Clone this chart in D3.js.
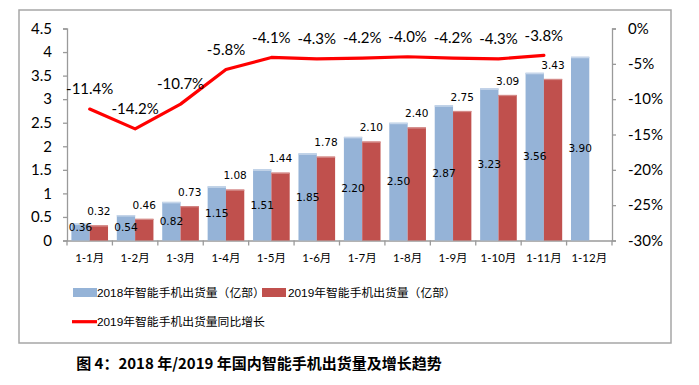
<!DOCTYPE html>
<html><head><meta charset="utf-8">
<script src="https://cdn.jsdelivr.net/npm/d3@7"></script>
<style>
html,body{margin:0;padding:0;background:#fff;}
svg{display:block;}
text{font-family:Lato,"Noto Sans CJK SC",sans-serif;}
</style></head>
<body><svg id="c" width="699" height="385"></svg>
<script>
const categories = ["1-1月","1-2月","1-3月","1-4月","1-5月","1-6月","1-7月","1-8月","1-9月","1-10月","1-11月","1-12月"];
const ship2018 = [0.36,0.54,0.82,1.15,1.51,1.85,2.20,2.50,2.87,3.23,3.56,3.90];
const ship2019 = [0.32,0.46,0.73,1.08,1.44,1.78,2.10,2.40,2.75,3.09,3.43];
const growth2019 = [-11.4,-14.2,-10.7,-5.8,-4.1,-4.3,-4.2,-4.0,-4.2,-4.3,-3.8];
const leftTicks = [0,0.5,1,1.5,2,2.5,3,3.5,4,4.5];
const rightTicks = [0,-5,-10,-15,-20,-25,-30];
const seriesNames = ["2018年智能手机出货量（亿部）","2019年智能手机出货量（亿部）","2019年智能手机出货量同比增长"];
const title = "图 4：2018 年/2019 年国内智能手机出货量及增长趋势";

const svg = d3.select("#c");
const L = 67, R = 612, T = 28.5, B = 240.5;
const BLUE = "#95B3D7", RED = "#C0504D", LINE = "#FF0000", AX = "#9a9a9a";

// frame
svg.append("rect").attr("x",19).attr("y",10).attr("width",652).attr("height",333)
  .attr("fill","none").attr("stroke","#a6a6a6").attr("stroke-width",1.5);

const x = d3.scaleBand().domain(categories).range([L,R]).padding(0);
const x1 = d3.scaleBand().domain(["a","b"]).range([0,x.bandwidth()]).paddingInner(0).paddingOuter(0.24);
const y = d3.scaleLinear().domain([0,4.5]).range([B,T]);
const y2 = d3.scaleLinear().domain([-30,0]).range([B,T]);

// axes
const gl = svg.append("g").attr("transform",`translate(${L},0)`)
  .call(d3.axisLeft(y).tickValues(leftTicks).tickFormat(d=>d3.format("")(d)).tickSize(4).tickPadding(11));
const gr = svg.append("g").attr("transform",`translate(${R},0)`)
  .call(d3.axisRight(y2).tickValues(rightTicks).tickFormat(d=>d+"%").tickSize(4).tickPadding(12));
const gb = svg.append("g").attr("transform",`translate(0,${B})`)
  .call(d3.axisBottom(x).tickSize(0).tickPadding(13));
[gl,gr,gb].forEach(g=>{
  g.select(".domain").attr("stroke",AX).attr("stroke-width",1.3);
  g.selectAll(".tick line").attr("stroke",AX).attr("stroke-width",1.3);
  g.selectAll("text").attr("fill","#000").style("font-family",'Lato,"Noto Sans CJK SC",sans-serif');
});
gl.selectAll("text").attr("font-size",15);
gr.selectAll("text").attr("font-size",15);
gb.selectAll("text").attr("font-size",11.5);
// category boundary ticks
const bounds = categories.map(c=>x(c)).concat([R]);
gb.selectAll(".bt").data(bounds).join("line").attr("class","bt")
  .attr("x1",d=>d).attr("x2",d=>d).attr("y1",0).attr("y2",5)
  .attr("stroke",AX).attr("stroke-width",1.3);

// bars
const g18 = svg.append("g");
ship2018.forEach((v,i)=>{
  const bx = x(categories[i])+x1("a");
  g18.append("rect").attr("x",bx).attr("y",y(v)).attr("width",x1.bandwidth()).attr("height",B-y(v)).attr("fill",BLUE);
  g18.append("rect").attr("x",bx).attr("y",y(v)).attr("width",x1.bandwidth()).attr("height",1.5).attr("fill","#c6d6ea");
});
const g19 = svg.append("g");
ship2019.forEach((v,i)=>{
  const bx = x(categories[i])+x1("b");
  g19.append("rect").attr("x",bx).attr("y",y(v)).attr("width",x1.bandwidth()).attr("height",B-y(v)).attr("fill",RED);
  g19.append("rect").attr("x",bx).attr("y",y(v)).attr("width",x1.bandwidth()).attr("height",1.2).attr("fill","#d48a88");
});
// bar labels
const lblFont = '"DejaVu Sans",sans-serif';
ship2018.forEach((v,i)=>{
  const cy = Math.min((y(v)+B)/2, 227);
  svg.append("text").attr("x",x(categories[i])+x1("a")+x1.bandwidth()/2).attr("y",cy)
    .attr("dy","0.35em").attr("text-anchor","middle").attr("font-size",10.5)
    .style("font-family",lblFont).text(v.toFixed(2));
});
ship2019.forEach((v,i)=>{
  svg.append("text").attr("x",x(categories[i])+x1("b")+x1.bandwidth()/2).attr("y",y(v)-14)
    .attr("dy","0.35em").attr("text-anchor","middle").attr("font-size",10.5)
    .style("font-family",lblFont).text(v.toFixed(2));
});

// line
const cx = i => x(categories[i])+x.bandwidth()/2;
const line = d3.line().x((d,i)=>cx(i)).y(d=>y2(d));
svg.append("path").datum(growth2019).attr("d",line).attr("fill","none")
  .attr("stroke",LINE).attr("stroke-width",3.2).attr("stroke-linejoin","round").attr("stroke-linecap","round");
growth2019.forEach((v,i)=>{
  svg.append("text").attr("x",cx(i)).attr("y",y2(v)-20).attr("dy","0.35em")
    .attr("text-anchor","middle").attr("font-size",15).text(v.toFixed(1)+"%");
});

// legend
const lgFont = '"Liberation Sans","Noto Sans CJK SC",sans-serif';
const leg = svg.append("g");
leg.append("rect").attr("x",73).attr("y",288).attr("width",24).attr("height",9).attr("fill",BLUE);
leg.append("text").attr("x",97).attr("y",292.5).attr("dy","0.35em").attr("font-size",11.8).style("font-family",lgFont).text(seriesNames[0]);
leg.append("rect").attr("x",262).attr("y",288).attr("width",24).attr("height",9).attr("fill",RED);
leg.append("text").attr("x",288).attr("y",292.5).attr("dy","0.35em").attr("font-size",11.8).style("font-family",lgFont).text(seriesNames[1]);
leg.append("line").attr("x1",72).attr("x2",97).attr("y1",321.7).attr("y2",321.7).attr("stroke",LINE).attr("stroke-width",3.2);
leg.append("text").attr("x",97).attr("y",321.7).attr("dy","0.35em").attr("font-size",11.8).style("font-family",lgFont).text(seriesNames[2]);

// title
svg.append("text").attr("x",259).attr("y",363.5).attr("dy","0.35em").attr("text-anchor","middle")
  .attr("font-size",15).attr("font-weight","bold")
  .style("font-family",'"Liberation Sans Narrow","Noto Sans CJK SC",sans-serif').text(title);
</script></body></html>
